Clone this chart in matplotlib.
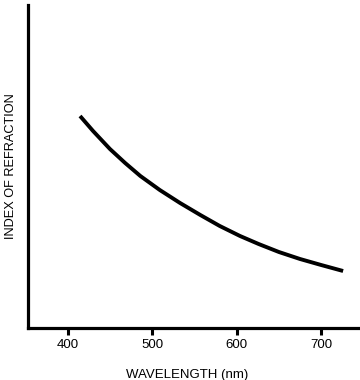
import numpy as np
import matplotlib.pyplot as plt

plt.rcParams['font.family'] = ['Liberation Sans', 'DejaVu Sans']

# wavelength (nm) and index of refraction
wavelength = [414.6, 430, 450, 468, 486, 509, 533, 557, 580, 604, 626, 650, 675, 700, 726]
n_index = [1.5212, 1.5197, 1.5179, 1.5165, 1.5152, 1.5138, 1.5125, 1.5113, 1.5102, 1.5092,
           1.5084, 1.5076, 1.5069, 1.5063, 1.5057]
xticks = [400, 500, 600, 700]

fig = plt.figure(figsize=(3.6, 3.8), dpi=100)
ax = fig.add_axes([28 / 360, 52 / 380, 332 / 360, 323 / 380])

ax.plot(wavelength, n_index, color='black', linewidth=2.8,
        solid_capstyle='butt', solid_joinstyle='round')

ax.set_xlim(353, 746)
ax.set_ylim(1.500, 1.5323)
ax.set_xticks(xticks)
ax.set_yticks([])
ax.tick_params(axis='x', direction='out', length=5, width=2.2, labelsize=9.5, pad=3)

for side in ['top', 'right']:
    ax.spines[side].set_visible(False)
for side in ['left', 'bottom']:
    ax.spines[side].set_linewidth(2.3)

ax.set_xlabel('WAVELENGTH (nm)', fontsize=9.5)
ax.xaxis.set_label_coords(0.479, -0.127)
ax.set_ylabel('INDEX OF REFRACTION', fontsize=9.2, labelpad=8)

plt.savefig('out.png', dpi=100)
